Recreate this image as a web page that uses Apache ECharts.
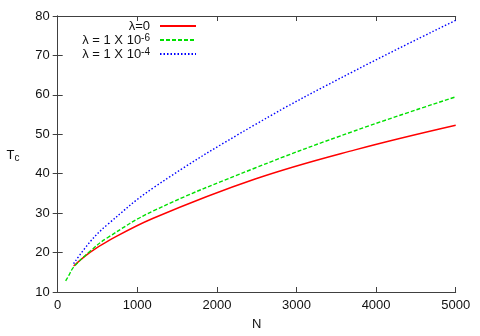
<!DOCTYPE html>
<html>
<head>
<meta charset="utf-8">
<script src="https://cdn.jsdelivr.net/npm/echarts@6/dist/echarts.min.js"></script>
<style>
  html, body { margin: 0; padding: 0; background: #fff; }
  #chart { width: 480px; height: 336px; }
</style>
</head>
<body>
<div id="chart"></div>
<script>
// data
const seriesNames = ['λ=0', 'λ = 1 X 10-6', 'λ = 1 X 10-4']
const legendLabels = ['λ=0', 'λ = 1 X 10{sup|-6}', 'λ = 1 X 10{sup|-4}']

const redN = [200, 410, 620, 1200, 2480, 3735, 5000]
const redT = [16.6, 20.1, 22.8, 28.7, 38.65, 46.05, 52.3]

const greenN = [100, 140, 200, 410, 620, 1200, 2480, 3735, 5000]
const greenT = [12.8, 14.2, 16.3, 20.4, 23.7, 30.55, 41.45, 50.9, 59.5]

const blueN = [200, 410, 620, 1200, 2480, 3735, 5000]
const blueT = [17.2, 22.8, 27.0, 36.4, 52.45, 66.15, 78.9]

const xTicks = [0, 1000, 2000, 3000, 4000, 5000]
const yTicks = [10, 20, 30, 40, 50, 60, 70, 80]

const chart = echarts.init(document.getElementById('chart'))

const pairs = (xs, ys) => xs.map((x, i) => [x, ys[i]])
const frame = { show: true, lineStyle: { color: '#404040', width: 1 } }
const ticks = { show: true, inside: true, length: 5, lineStyle: { color: '#404040' } }
const font = 'Liberation Sans, Arial, sans-serif'

const option = {
  animation: false,
  grid: { left: 57.7, right: 24.3, top: 16, bottom: 42.7, containLabel: false },
  // y title, horizontal like the gnuplot ylabel
  graphic: [
    {
      type: 'text',
      x: 13,
      y: 155,
      style: {
        text: 'T{sub|c}',
        align: 'center',
        verticalAlign: 'middle',
        fontFamily: font,
        fontSize: 13,
        fill: '#111',
        rich: { sub: { fontSize: 10, fontFamily: font, fill: '#111', padding: [6, 0, 0, 0] } }
      }
    }
  ],
  legend: {
    orient: 'vertical',
    align: 'right',
    right: 283,
    top: 19,
    padding: 0,
    itemWidth: 36,
    itemHeight: 10,
    itemGap: 0,
    itemStyle: { opacity: 0 },
    data: seriesNames,
    formatter: (name) => legendLabels[seriesNames.indexOf(name)] + '{gap|}',
    textStyle: {
      fontFamily: font,
      fontSize: 13,
      lineHeight: 14,
      color: '#111',
      rich: {
        sup: { fontSize: 10, lineHeight: 10, fontFamily: font, color: '#111', padding: [0, 0, 4, 0] },
        gap: { width: 5 }
      }
    }
  },
  xAxis: [
    {
      type: 'value',
      min: 0,
      max: 5000,
      interval: 1000,
      name: 'N',
      nameLocation: 'middle',
      nameGap: 26,
      nameTextStyle: { fontFamily: font, fontSize: 13, color: '#111' },
      axisLine: frame,
      axisTick: ticks,
      splitLine: { show: false },
      axisLabel: { fontFamily: font, fontSize: 13, color: '#111', margin: 7,
        formatter: (v) => (xTicks.includes(v) ? String(v) : '') }
    },
    {
      type: 'value',
      position: 'top',
      min: 0,
      max: 5000,
      interval: 1000,
      axisLine: frame,
      axisTick: ticks,
      splitLine: { show: false },
      axisLabel: { show: false }
    }
  ],
  yAxis: [
    {
      type: 'value',
      min: 10,
      max: 80,
      interval: 10,
      axisLine: frame,
      axisTick: ticks,
      splitLine: { show: false },
      axisLabel: { fontFamily: font, fontSize: 13, color: '#111', margin: 8,
        formatter: (v) => (yTicks.includes(v) ? String(v) : '') }
    },
    {
      type: 'value',
      position: 'right',
      min: 10,
      max: 80,
      interval: 10,
      axisLine: frame,
      axisTick: ticks,
      splitLine: { show: false },
      axisLabel: { show: false }
    }
  ],
  series: [
    {
      name: seriesNames[0],
      type: 'line',
      data: pairs(redN, redT),
      smooth: 0.4,
      symbol: 'none',
      lineStyle: { color: '#ff0000', width: 1.4, type: 'solid' },
      itemStyle: { color: '#ff0000' }
    },
    {
      name: seriesNames[1],
      type: 'line',
      data: pairs(greenN, greenT),
      smooth: 0.4,
      symbol: 'none',
      lineStyle: { color: '#00e000', width: 1.4, type: [4, 2] },
      itemStyle: { color: '#00e000' }
    },
    {
      name: seriesNames[2],
      type: 'line',
      data: pairs(blueN, blueT),
      smooth: 0.4,
      symbol: 'none',
      lineStyle: { color: '#0000ff', width: 1.4, type: [1.5, 2] },
      itemStyle: { color: '#0000ff' }
    }
  ]
}

chart.setOption(option)
</script>
</body>
</html>
